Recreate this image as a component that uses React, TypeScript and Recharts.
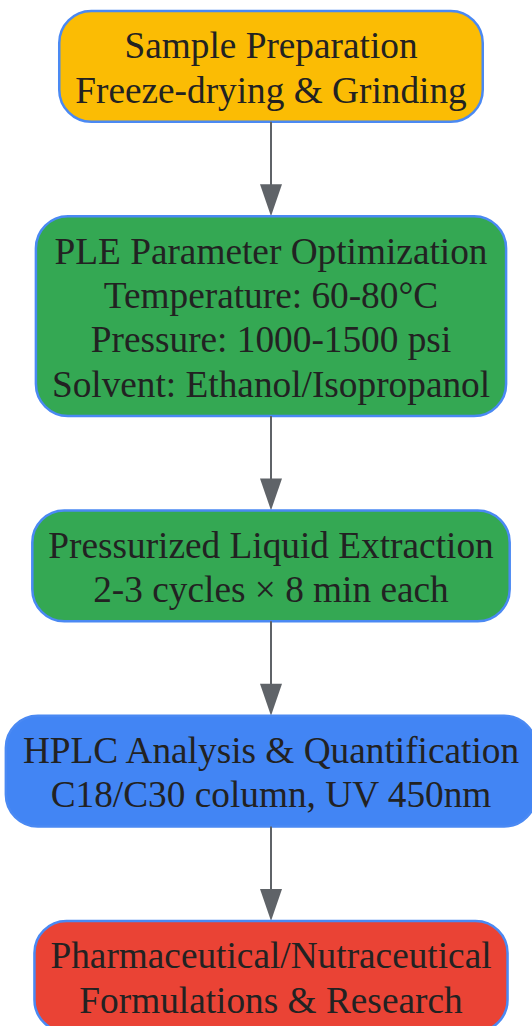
import { ScatterChart, Scatter, XAxis, YAxis } from 'recharts';

// flow steps, top to bottom
const steps = [
  'Sample Preparation',
  'PLE Parameter Optimization',
  'Pressurized Liquid Extraction',
  'HPLC Analysis & Quantification',
  'Pharmaceutical/Nutraceutical',
];

const details = [
  ['Freeze-drying & Grinding'],
  ['Temperature: 60-80°C', 'Pressure: 1000-1500 psi', 'Solvent: Ethanol/Isopropanol'],
  ['2-3 cycles × 8 min each'],
  ['C18/C30 column, UV 450nm'],
  ['Formulations & Research'],
];

const fills = ['#FBBC04', '#34A853', '#34A853', '#4285F4', '#EA4335'];

const W = 532;
const H = 1026;
const FONT = 37.3;
const LINE = 44.4;
const PAD_Y = 11;
const PAD_X = 16;
const GAP = 94.5;
const TOP = 11;
const CENTER_X = 271;
const TEXT_SHIFT = 1.5;
const FONT_FAMILY = "'Liberation Serif', 'Times New Roman', serif";

const ctx = typeof document !== 'undefined' ? document.createElement('canvas').getContext('2d') : null;
function textWidth(s: string) {
  if (!ctx) return s.length * FONT * 0.5;
  ctx.font = `${FONT}px 'Liberation Serif'`;
  return ctx.measureText(s).width;
}

// stack boxes: height from line count, width from longest line
let cursor = TOP;
const nodes = steps.map((title, i) => {
  const lines = [title, ...details[i]];
  const h = lines.length * LINE + PAD_Y * 2;
  const w = Math.max(...lines.map(textWidth)) + PAD_X * 2;
  const node = { x: CENTER_X, y: cursor + h / 2, lines, h, w, fill: fills[i], idx: i };
  cursor += h + GAP;
  return node;
});

function NodeShape(props: any) {
  const { cx, cy, payload } = props;
  const { w, h, lines, fill, idx } = payload;
  const top = cy - h / 2;
  const ascent = 0.891 * FONT;
  const halfLead = (LINE - 1.107 * FONT) / 2;
  return (
    <g>
      {idx > 0 && (
        <g>
          <line x1={cx} x2={cx} y1={top - GAP} y2={top - 28} stroke="#5F6368" strokeWidth={2} />
          <path d={`M${cx - 11},${top - 32} L${cx + 11},${top - 32} L${cx},${top} Z`} fill="#5F6368" />
        </g>
      )}
      <rect
        x={cx - w / 2}
        y={top}
        width={w}
        height={h}
        rx={32}
        ry={32}
        fill={fill}
        stroke="#4A89F3"
        strokeWidth={2.5}
      />
      {lines.map((t: string, i: number) => (
        <text
          key={i}
          x={cx}
          y={top + PAD_Y + halfLead + ascent + i * LINE + TEXT_SHIFT}
          textAnchor="middle"
          fontSize={FONT}
          fontFamily={FONT_FAMILY}
          fill="#222"
        >
          {t}
        </text>
      ))}
    </g>
  );
}

export default function App() {
  return (
    <div style={{ position: 'absolute', left: 0, top: 0, width: W, height: H, background: '#fff' }}>
      <ScatterChart width={W} height={H} margin={{ top: 0, right: 0, bottom: 0, left: 0 }}>
        <XAxis type="number" dataKey="x" domain={[0, W]} hide />
        <YAxis type="number" dataKey="y" domain={[0, H]} reversed hide />
        <Scatter data={nodes} shape={NodeShape} isAnimationActive={false} />
      </ScatterChart>
    </div>
  );
}
